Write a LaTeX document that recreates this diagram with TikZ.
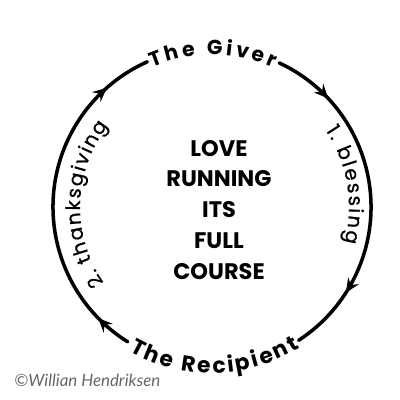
\documentclass[tikz,border=0pt]{standalone}
\usepackage{fontspec}
\setmainfont{Poppins}
\newfontfamily\sidefont{Poppins}[FakeBold=0.8]
\newfontfamily\notefont{Lato}
\usetikzlibrary{arrows.meta,decorations.text,decorations.markings}

\begin{document}
\begin{tikzpicture}[x=0.025cm,y=0.025cm,
    flow/.tip={Stealth[length=10pt,width=9pt,inset=3.5pt]},
    cycleline/.style={line width=2.5pt,line cap=round,postaction={decorate}},
    ringtext/.style={decorate,decoration={text along path,text align={fit to path},raise=-5pt,text={#1}}},
    sidetext/.style={decorate,decoration={text along path,text align={fit to path},text={#1}}}]
    \useasboundingbox (0,0) rectangle (400,400);
    \coordinate (C) at (212,193);
    % right half: giver to recipient
    \draw[cycleline,decoration={markings,mark=at position 0.18 with {\arrow{flow}},mark=at position 0.8 with {\arrow{flow}}}]
        (C) ++(65:159) arc[start angle=65,end angle=-57,radius=159];
    % left half: recipient back to giver
    \draw[cycleline,decoration={markings,mark=at position 0.11 with {\arrow{flow}},mark=at position 0.86 with {\arrow{flow}}}]
        (C) ++(238:159) arc[start angle=238,end angle=114,radius=159];
    % names on the ring
    \path[ringtext={|\bfseries\fontsize{14.5}{14.5}\selectfont|The Giver}]
        (C) ++(113:159) arc[start angle=113,end angle=66,radius=159];
    \path[ringtext={|\bfseries\fontsize{15.5}{15.5}\selectfont|The Recipient}]
        (C) ++(240:159) arc[start angle=240,end angle=302,radius=159];
    % steps inside the ring
    \path[sidetext={|\sidefont\fontsize{14}{14}\selectfont|1. blessing}]
        (C) ++(34:137) arc[start angle=34,end angle=-15,radius=137];
    \path[sidetext={|\sidefont\fontsize{14}{14}\selectfont|2. thanksgiving}]
        (C) ++(215:132) arc[start angle=215,end angle=142,radius=132];
    \node[font=\bfseries\fontsize{16}{22}\selectfont,align=center] (motto) at (219,190) {LOVE\\RUNNING\\ITS\\FULL\\COURSE};
    \node[font=\notefont\itshape\fontsize{12}{13}\selectfont,text=black!60,anchor=west,inner sep=0pt] (credit) at (14,20) {©Willian Hendriksen};
\end{tikzpicture}
\end{document}
